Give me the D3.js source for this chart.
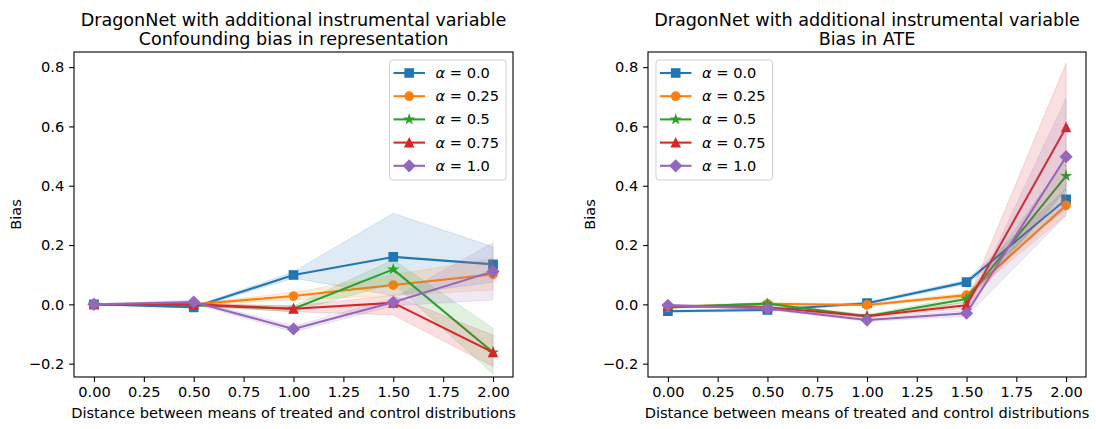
<!DOCTYPE html>
<html><head><meta charset="utf-8">
<script src="https://cdn.jsdelivr.net/npm/d3@7"></script>
<style>
body{margin:0;background:#fff}
svg{display:block;font-family:"DejaVu Sans",sans-serif}
</style>
</head><body>
<svg id="c" width="1096" height="429"></svg>
<script>
// ---------------- data ----------------
const xValues = [0.0, 0.5, 1.0, 1.5, 2.0];
const alphaLabels = ["0.0", "0.25", "0.5", "0.75", "1.0"];
const xTickValues = [0, 0.25, 0.5, 0.75, 1.0, 1.25, 1.5, 1.75, 2.0];
const yTickValues = [-0.2, 0.0, 0.2, 0.4, 0.6, 0.8];
const titleLeft = ["DragonNet with additional instrumental variable", "Confounding bias in representation"];
const titleRight = ["DragonNet with additional instrumental variable", "Bias in ATE"];
const xLabelText = "Distance between means of treated and control distributions";
const yLabelText = "Bias";

// Confounding bias in representation (one row per alpha)
const repMean = [
  [0.000, -0.010, 0.099, 0.160, 0.135],
  [0.000, 0.000, 0.028, 0.065, 0.101],
  [0.000, -0.003, -0.015, 0.118, -0.162],
  [0.000, 0.000, -0.015, 0.005, -0.162],
  [0.000, 0.008, -0.083, 0.007, 0.111]
];
const repLow = [
  [0.000, -0.013, 0.088, 0.030, 0.075],
  [0.000, -0.003, 0.015, 0.030, 0.048],
  [0.000, -0.006, -0.025, 0.070, -0.235],
  [0.000, -0.003, -0.025, -0.036, -0.210],
  [0.000, 0.002, -0.093, -0.005, 0.015]
];
const repHigh = [
  [0.000, -0.007, 0.110, 0.307, 0.194],
  [0.000, 0.003, 0.040, 0.100, 0.155],
  [0.000, 0.000, -0.005, 0.150, -0.081],
  [0.000, 0.003, -0.005, 0.030, -0.104],
  [0.000, 0.014, -0.073, 0.020, 0.208]
];

// Bias in ATE
const ateMean = [
  [-0.023, -0.019, 0.004, 0.075, 0.354],
  [-0.009, 0.002, -0.002, 0.031, 0.334],
  [-0.010, 0.002, -0.040, 0.018, 0.433],
  [-0.005, -0.010, -0.040, -0.003, 0.597],
  [-0.003, -0.014, -0.053, -0.030, 0.498]
];
const ateLow = [
  [-0.027, -0.023, 0.000, 0.068, 0.320],
  [-0.013, -0.002, -0.006, 0.024, 0.300],
  [-0.014, -0.002, -0.045, 0.008, 0.380],
  [-0.009, -0.014, -0.045, -0.013, 0.390],
  [-0.007, -0.018, -0.058, -0.040, 0.300]
];
const ateHigh = [
  [-0.019, -0.015, 0.008, 0.082, 0.390],
  [-0.005, 0.006, 0.002, 0.038, 0.370],
  [-0.006, 0.006, -0.035, 0.028, 0.490],
  [-0.001, -0.006, -0.035, 0.007, 0.813],
  [0.001, -0.010, -0.048, -0.020, 0.695]
];

const colors = ["#1f77b4", "#ff7f0e", "#2ca02c", "#d62728", "#9467bd"];
const markerKinds = ["square", "circle", "star", "triangle", "diamond"];

// ---------------- drawing ----------------
const svg = d3.select("#c");
const FONT = '"DejaVu Sans", sans-serif';
const FS = 14.6, FS_TITLE = 17.6;

function markerPath(kind) {
  const r = 4.15;
  if (kind === "square") return `M${-r},${-r}H${r}V${r}H${-r}Z`;
  if (kind === "circle") return d3.symbol(d3.symbolCircle, Math.PI * r * r)();
  if (kind === "triangle") return `M0,${-r}L${r},${r}L${-r},${r}Z`;
  if (kind === "diamond") { const d = 5.6; return `M0,${-d}L${d},0L0,${d}L${-d},0Z`; }
  if (kind === "star") {
    const pts = [];
    const ri = r * 0.381966;
    for (let i = 0; i < 10; i++) {
      const a = -Math.PI / 2 + i * Math.PI / 5;
      const rr = i % 2 === 0 ? r : ri;
      pts.push([rr * Math.cos(a), rr * Math.sin(a)]);
    }
    return "M" + pts.map(p => p[0].toFixed(2) + "," + p[1].toFixed(2)).join("L") + "Z";
  }
}

function drawPanel(cfg) {
  const { x0, x1, y0, y1, mean, low, high, title, legendX } = cfg;
  const x = d3.scaleLinear().domain([-0.1, 2.1]).range([x0, x1]);
  const y = d3.scaleLinear().domain([-0.245, 0.851]).range([y1, y0]);
  const g = svg.append("g");

  // bands and lines
  for (let s = 0; s < mean.length; s++) {
    const pts = xValues.map((xv, i) => ({ x: xv, m: mean[s][i], lo: low[s][i], hi: high[s][i] }));
    g.append("path")
      .attr("d", d3.area().x(d => x(d.x)).y0(d => y(d.lo)).y1(d => y(d.hi))(pts))
      .attr("fill", colors[s]).attr("fill-opacity", 0.15).attr("stroke", colors[s])
      .attr("stroke-opacity", 0.15).attr("stroke-width", 1);
    g.append("path")
      .attr("d", d3.line().x(d => x(d.x)).y(d => y(d.m))(pts))
      .attr("fill", "none").attr("stroke", colors[s]).attr("stroke-width", 2.08)
      .attr("stroke-linejoin", "round").attr("stroke-linecap", "square");
    g.selectAll(null).data(pts).enter().append("path")
      .attr("d", markerPath(markerKinds[s]))
      .attr("transform", d => `translate(${x(d.x)},${y(d.m)})`)
      .attr("fill", colors[s]).attr("stroke", colors[s]).attr("stroke-width", 1.39)
      .attr("stroke-linejoin", "miter");
  }

  // axes
  const xa = g.append("g").attr("transform", `translate(0,${y1})`)
    .call(d3.axisBottom(x).tickValues(xTickValues).tickFormat(d3.format(".2f")).tickSize(4.9).tickPadding(4.9));
  const ya = g.append("g").attr("transform", `translate(${x0},0)`)
    .call(d3.axisLeft(y).tickValues(yTickValues).tickFormat(d => d3.format(".1f")(d).replace("-", "\u2212")).tickSize(4.9).tickPadding(4.9));
  [xa, ya].forEach(a => {
    a.select(".domain").remove();
    a.selectAll("line").attr("stroke", "#000").attr("stroke-width", 1.1);
    a.selectAll("text").attr("font-family", FONT).attr("font-size", FS).attr("fill", "#000");
  });

  // frame
  g.append("rect").attr("x", x0).attr("y", y0).attr("width", x1 - x0).attr("height", y1 - y0)
    .attr("fill", "none").attr("stroke", "#000").attr("stroke-width", 1.1);

  // titles
  const cx = (x0 + x1) / 2;
  title.forEach((t, i) => {
    g.append("text").attr("x", cx).attr("y", 25.5 + i * 19.5).attr("text-anchor", "middle")
      .attr("font-family", FONT).attr("font-size", FS_TITLE).attr("fill", "#000").text(t);
  });
  g.append("text").attr("x", cx).attr("y", 418).attr("text-anchor", "middle")
    .attr("font-family", FONT).attr("font-size", FS).attr("fill", "#000").text(xLabelText);
  g.append("text").attr("transform", `translate(${x0 - 53},${(y0 + y1) / 2}) rotate(-90)`)
    .attr("text-anchor", "middle").attr("font-family", FONT).attr("font-size", FS)
    .attr("fill", "#000").text(yLabelText);

  // legend
  const lw = 116.5, lh = 120, ly = 60;
  const leg = g.append("g");
  leg.append("rect").attr("x", legendX).attr("y", ly).attr("width", lw).attr("height", lh)
    .attr("rx", 3).attr("fill", "#fff").attr("fill-opacity", 0.8)
    .attr("stroke", "#d0d0d0").attr("stroke-width", 1);
  alphaLabels.forEach((lab, s) => {
    const yy = ly + 13 + s * 23.2;
    leg.append("line").attr("x1", legendX + 4).attr("x2", legendX + 35.5)
      .attr("y1", yy).attr("y2", yy).attr("stroke", colors[s]).attr("stroke-width", 2.08);
    leg.append("path").attr("d", markerPath(markerKinds[s]))
      .attr("transform", `translate(${legendX + 19.7},${yy})`)
      .attr("fill", colors[s]).attr("stroke", colors[s]).attr("stroke-width", 1.39);
    const t = leg.append("text").attr("x", legendX + 46).attr("y", yy + 5)
      .attr("font-family", FONT).attr("font-size", FS).attr("fill", "#000");
    t.append("tspan").attr("font-style", "italic").text("\u03b1");
    t.append("tspan").text(" = " + lab);
  });
}

drawPanel({ x0: 74, x1: 513, y0: 52, y1: 377, mean: repMean, low: repLow, high: repHigh, title: titleLeft, legendX: 389.5 });
drawPanel({ x0: 648, x1: 1086, y0: 52, y1: 377, mean: ateMean, low: ateLow, high: ateHigh, title: titleRight, legendX: 656 });
</script>
</body></html>
